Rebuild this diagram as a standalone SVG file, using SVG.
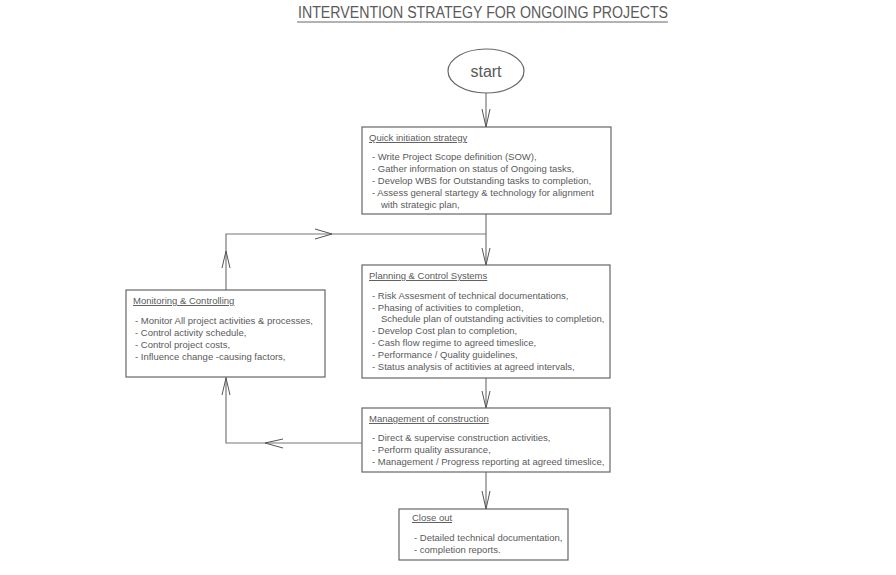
<svg xmlns="http://www.w3.org/2000/svg" width="896" height="575" viewBox="0 0 896 575">
<style>
text{font-family:"Liberation Sans",Arial,sans-serif;fill:#5a5a5a;}
.t{font-size:9.5px;}
.h{font-size:9.5px;text-decoration:underline;}
.box{fill:#fff;stroke:#666;stroke-width:1.2;}
.ln{fill:none;stroke:#777;stroke-width:1.2;}
.ar{fill:none;stroke:#555;stroke-width:1;}
</style>
<rect width="896" height="575" fill="#fff"/>
<g id="title">
<text x="298" y="18" font-size="16" textLength="370" lengthAdjust="spacingAndGlyphs" fill="#777">INTERVENTION STRATEGY FOR ONGOING PROJECTS</text>
<line x1="297" y1="22" x2="668" y2="22" stroke="#666" stroke-width="1"/>
</g>
<g id="connectors">
<line class="ln" x1="486" y1="93" x2="486" y2="127"/>
<polyline class="ar" points="482,109 486,127 490,109"/>
<line class="ln" x1="486" y1="214" x2="486" y2="265"/>
<polyline class="ar" points="482,248 486,265 490,248"/>
<polyline class="ln" points="486,234 226,234 226,290"/>
<polyline class="ar" points="315,229 332,234 315,239"/>
<polyline class="ar" points="222,268 226,251 230,268"/>
<polyline class="ln" points="226,377 226,443 362,443"/>
<polyline class="ar" points="222,395 226,378 230,395"/>
<polyline class="ar" points="283,439 265,443 283,448"/>
<line class="ln" x1="486" y1="378" x2="486" y2="408"/>
<polyline class="ar" points="482,391 486,408 490,391"/>
<line class="ln" x1="486" y1="472" x2="486" y2="509"/>
<polyline class="ar" points="482,491 486,509 490,491"/>
</g>
<g id="start">
<ellipse cx="486" cy="71" rx="38" ry="22" fill="#fff" stroke="#666" stroke-width="1.2"/>
<text x="486" y="77" font-size="16" text-anchor="middle" fill="#777">start</text>
</g>
<g id="quick">
<rect class="box" x="362" y="127" width="249" height="87"/>
<text class="h" x="369" y="141">Quick initiation strategy</text>
<text class="t" x="372" y="160">- Write Project Scope definition (SOW),</text>
<text class="t" x="372" y="172">- Gather information on status of Ongoing tasks,</text>
<text class="t" x="372" y="184">- Develop WBS for Outstanding tasks to completion,</text>
<text class="t" x="372" y="196">- Assess general startegy &amp; technology for alignment</text>
<text class="t" x="381" y="208">with strategic plan,</text>
</g>
<g id="planning">
<rect class="box" x="362" y="265" width="248" height="113"/>
<text class="h" x="369" y="279">Planning &amp; Control Systems</text>
<text class="t" x="372" y="299">- Risk Assesment of technical documentations,</text>
<text class="t" x="372" y="311">- Phasing of activities to completion,</text>
<text class="t" x="381" y="322">Schedule plan of outstanding activities to completion,</text>
<text class="t" x="372" y="334">- Develop Cost plan to completion,</text>
<text class="t" x="372" y="346">- Cash flow regime to agreed timeslice,</text>
<text class="t" x="372" y="358">- Performance / Quality guidelines,</text>
<text class="t" x="372" y="370">- Status analysis of actitivies at agreed intervals,</text>
</g>
<g id="monitoring">
<rect class="box" x="126" y="290" width="199" height="87"/>
<text class="h" x="133" y="304">Monitoring &amp; Controlling</text>
<text class="t" x="135" y="324">- Monitor All project activities &amp; processes,</text>
<text class="t" x="135" y="336">- Control activity schedule,</text>
<text class="t" x="135" y="348">- Control project costs,</text>
<text class="t" x="135" y="360">- Influence change -causing factors,</text>
</g>
<g id="management">
<rect class="box" x="362" y="408" width="248" height="64"/>
<text class="h" x="369" y="422">Management of construction</text>
<text class="t" x="372" y="441">- Direct &amp; supervise construction activities,</text>
<text class="t" x="372" y="453">- Perform quality assurance,</text>
<text class="t" x="372" y="465">- Management / Progress reporting at agreed timeslice,</text>
</g>
<g id="closeout">
<rect class="box" x="399" y="509" width="169" height="51"/>
<text class="h" x="412" y="521">Close out</text>
<text class="t" x="414" y="541">- Detailed technical documentation,</text>
<text class="t" x="414" y="553">- completion reports.</text>
</g>
</svg>
